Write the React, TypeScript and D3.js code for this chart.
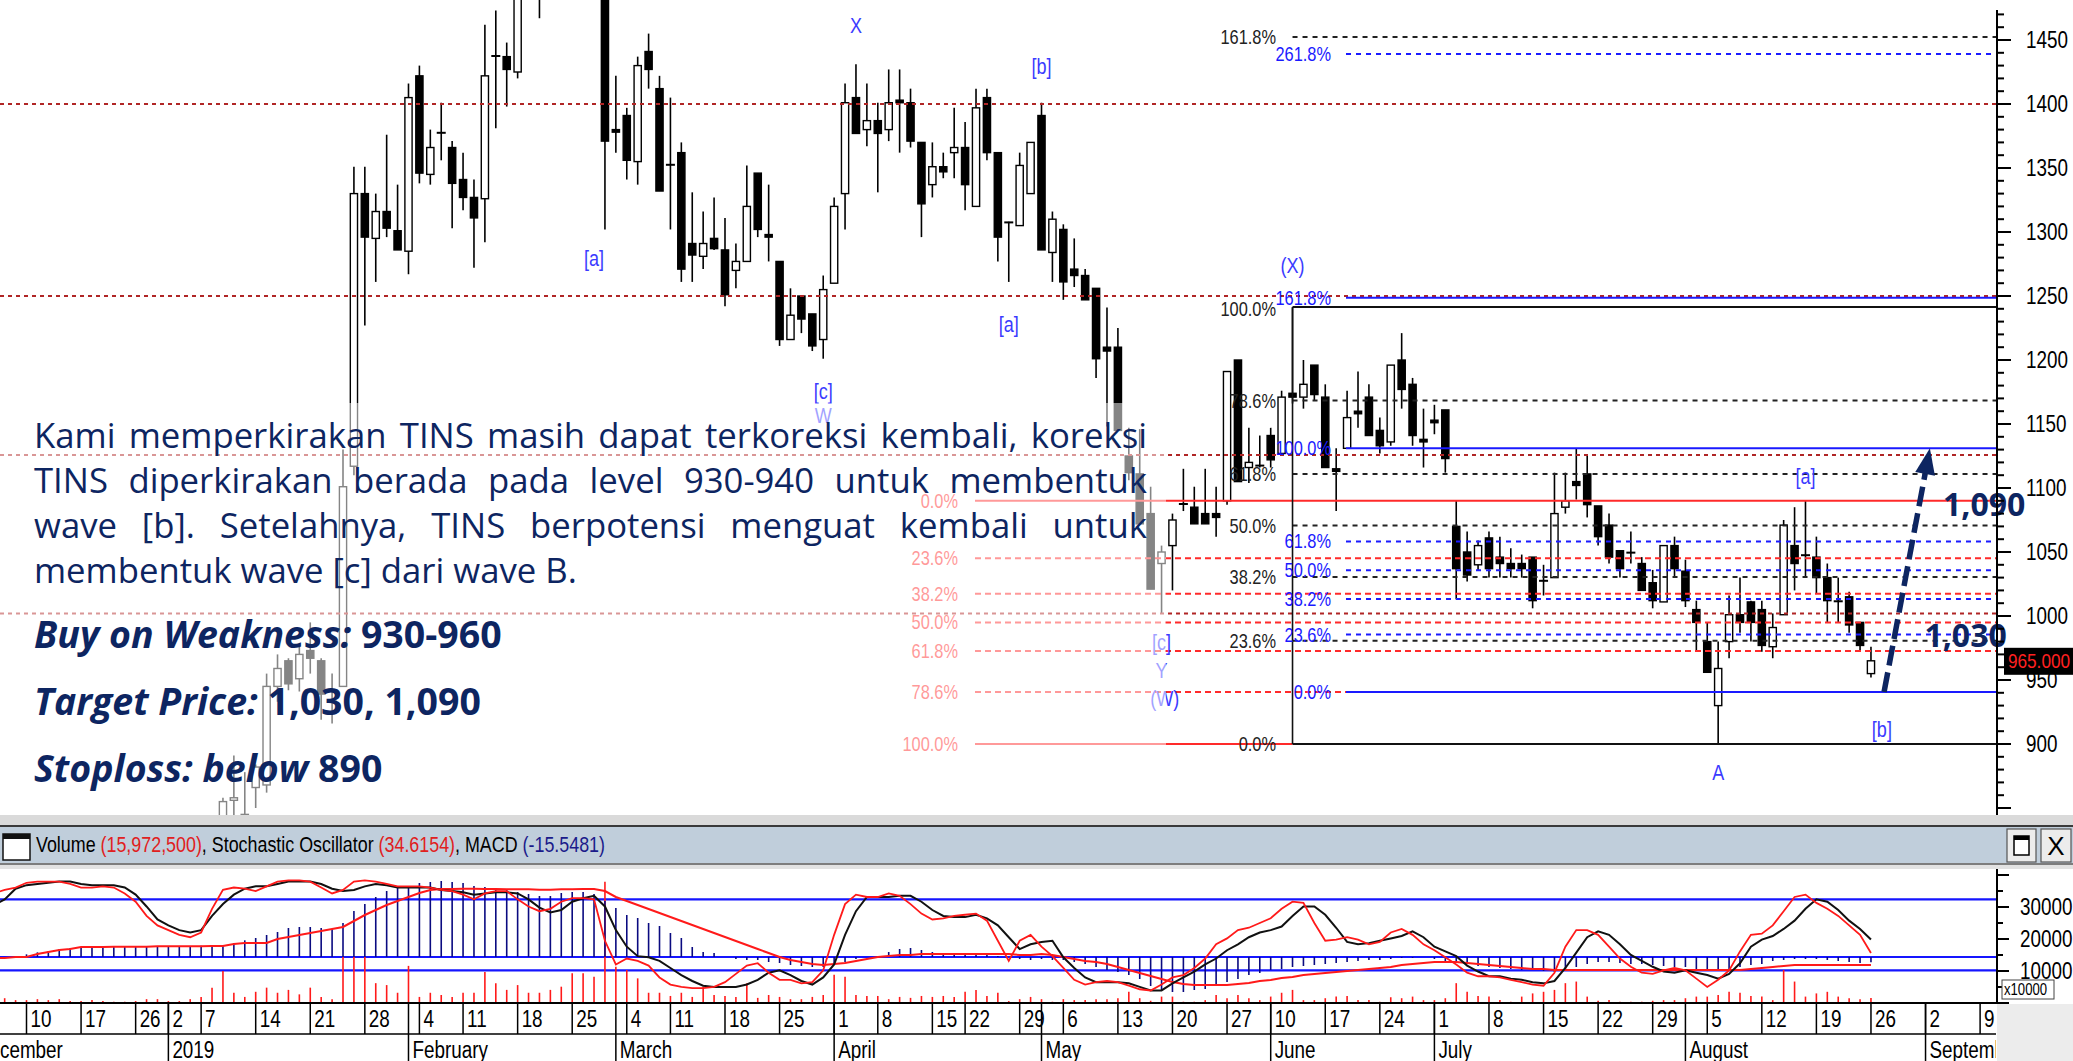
import React, { useEffect, useRef } from 'react';
import * as d3 from 'd3';

const W = 2073;
const H = 1061;

// ---------- categories: trading days ----------
const monthDays: [string, string, number[]][] = [
  ['2018-12', 'December', [3, 4, 5, 6, 7, 10, 11, 12, 13, 14, 17, 18, 19, 20, 21, 26, 27, 28]],
  ['2019-01', '2019', [2, 3, 4, 7, 8, 9, 10, 11, 14, 15, 16, 17, 18, 21, 22, 23, 24, 25, 28, 29, 30, 31]],
  ['2019-02', 'February', [1, 4, 6, 7, 8, 11, 12, 13, 14, 15, 18, 19, 20, 21, 22, 25, 26, 27, 28]],
  ['2019-03', 'March', [1, 4, 5, 6, 8, 11, 12, 13, 14, 15, 18, 19, 20, 21, 22, 25, 26, 27, 28, 29]],
  ['2019-04', 'April', [1, 2, 4, 5, 8, 9, 10, 11, 12, 15, 16, 18, 22, 23, 24, 25, 26, 29, 30]],
  ['2019-05', 'May', [2, 3, 6, 7, 8, 9, 10, 13, 14, 15, 16, 17, 20, 21, 22, 23, 24, 27, 28, 29, 31]],
  ['2019-06', 'June', [10, 11, 12, 13, 14, 17, 18, 19, 20, 21, 24, 25, 26, 27, 28]],
  ['2019-07', 'July', [1, 2, 3, 4, 5, 8, 9, 10, 11, 12, 15, 16, 17, 18, 19, 22, 23, 24, 25, 26, 29, 30, 31]],
  ['2019-08', 'August', [1, 2, 5, 6, 7, 8, 9, 12, 13, 14, 15, 16, 19, 20, 21, 22, 23, 26, 27, 28, 29, 30]],
  ['2019-09', 'September', [2, 3, 4, 5, 6, 9, 10, 11, 12, 13]],
];
const dates: string[] = monthDays.flatMap(([m, , ds]) => ds.map((d) => `${m}-${String(d).padStart(2, '0')}`));
const monthLabel: Record<string, string> = Object.fromEntries(monthDays.map(([m, l]) => [m, l]));

// ---------- price series (Dec 3 2018 .. Aug 26 2019) ----------
const open = [
  780, 788, 790, 795, 790,
  798, 805, 800, 808, 812, 805, 800, 798, 805, 800,
  792, 785, 790, 795, 790, 785, 788, 805, 835, 856,
  840, 866, 868, 945, 965, 951, 973, 965, 933, 945,
  1117, 1330, 1295, 1316, 1301, 1285, 1422, 1345, 1378, 1366,
  1341, 1327, 1326, 1438, 1437, 1425, 1505, 1540, 1500, 1550,
  1580, 1560, 1535, 1525, 1380, 1391, 1355, 1441, 1412, 1353,
  1362, 1291, 1281, 1295, 1286, 1270, 1277, 1346, 1298, 1277,
  1216, 1250, 1236, 1216, 1260, 1330, 1405, 1380, 1387, 1380,
  1403, 1401, 1370, 1337, 1351, 1362, 1366, 1320, 1405, 1362,
  1308, 1305, 1330, 1391, 1284, 1302, 1271, 1266, 1256, 1210,
  1210, 1125, 1111, 1080, 1041, 1055, 1088, 1085, 1080, 1080,
  1090, 1200, 1116, 1118, 1141, 1127, 1174, 1171, 1196, 1171,
  1115, 1131, 1160, 1171, 1145, 1136, 1200, 1181, 1138, 1153,
  1161, 1070, 1050, 1040, 1061, 1046, 1041, 1041, 1046, 1028,
  1030, 1085, 1105, 1111, 1086, 1071, 1051, 1049, 1041, 1026,
  1011, 1055, 1035, 1005, 980, 930, 980, 1001, 1011, 1005,
  976, 1001, 1055, 1048, 1046, 1030, 1012, 1015, 995, 955,
];
const high = [
  792, 798, 800, 805, 800,
  810, 815, 812, 820, 818, 812, 808, 810, 815, 806,
  798, 795, 800, 805, 798, 792, 810, 840, 858, 891,
  878, 884, 955, 970, 967, 977, 995, 967, 955, 1130,
  1351, 1351, 1330, 1376, 1337, 1416, 1430, 1380, 1401, 1371,
  1362, 1341, 1462, 1473, 1448, 1530, 1560, 1580, 1560, 1600,
  1620, 1590, 1570, 1530, 1422, 1397, 1437, 1455, 1422, 1405,
  1370, 1331, 1316, 1327, 1311, 1291, 1352, 1346, 1337, 1277,
  1256, 1250, 1236, 1266, 1327, 1416, 1431, 1416, 1401, 1427,
  1427, 1412, 1370, 1370, 1362, 1397, 1386, 1412, 1412, 1362,
  1308, 1362, 1370, 1401, 1316, 1306, 1295, 1271, 1256, 1241,
  1225, 1147, 1146, 1101, 1055, 1080, 1115, 1101, 1115, 1101,
  1191, 1200, 1147, 1141, 1147, 1176, 1241, 1200, 1196, 1181,
  1131, 1176, 1191, 1181, 1155, 1196, 1221, 1186, 1162, 1165,
  1161, 1090, 1066, 1059, 1066, 1062, 1053, 1048, 1046, 1040,
  1112, 1112, 1131, 1126, 1086, 1080, 1051, 1066, 1046, 1036,
  1055, 1062, 1044, 1012, 995, 980, 1016, 1030, 1012, 1012,
  1002, 1075, 1085, 1090, 1062, 1041, 1030, 1019, 995, 976,
];
const low = [
  772, 780, 780, 785, 780,
  790, 795, 792, 800, 800, 795, 790, 792, 798, 788,
  780, 778, 785, 785, 780, 775, 785, 800, 830, 840,
  835, 850, 862, 933, 942, 941, 955, 919, 916, 945,
  1110, 1227, 1261, 1296, 1286, 1267, 1338, 1337, 1356, 1303,
  1317, 1272, 1292, 1381, 1398, 1420, 1490, 1467, 1490, 1530,
  1540, 1520, 1500, 1302, 1362, 1341, 1337, 1412, 1332, 1302,
  1261, 1261, 1271, 1286, 1242, 1256, 1277, 1296, 1277, 1211,
  1216, 1221, 1207, 1201, 1260, 1302, 1377, 1367, 1331, 1371,
  1362, 1366, 1296, 1327, 1342, 1342, 1317, 1320, 1356, 1277,
  1261, 1305, 1330, 1286, 1261, 1247, 1257, 1247, 1186, 1148,
  1145, 1106, 1072, 1021, 1002, 1020, 1082, 1072, 1072, 1062,
  1087, 1105, 1104, 1116, 1116, 1127, 1166, 1162, 1168, 1116,
  1082, 1131, 1147, 1141, 1127, 1133, 1162, 1133, 1116, 1142,
  1112, 1013, 1027, 1036, 1030, 1030, 1030, 1030, 1006, 1016,
  1030, 1080, 1091, 1077, 1055, 1041, 1030, 1041, 1020, 1006,
  1011, 1030, 1007, 972, 956, 900, 967, 987, 980, 972,
  967, 1001, 1020, 1030, 1018, 995, 995, 987, 972, 952,
];
const close = [
  788, 790, 795, 790, 798,
  805, 800, 808, 812, 805, 800, 798, 805, 800, 792,
  785, 790, 795, 790, 785, 788, 805, 830, 855, 858,
  845, 882, 945, 959, 947, 970, 967, 939, 934, 1101,
  1330, 1296, 1316, 1303, 1286, 1405, 1346, 1366, 1377, 1338,
  1327, 1311, 1422, 1437, 1427, 1505, 1540, 1500, 1550, 1580,
  1560, 1535, 1525, 1371, 1378, 1356, 1430, 1427, 1332, 1352,
  1271, 1282, 1291, 1287, 1251, 1277, 1320, 1302, 1296, 1216,
  1235, 1232, 1211, 1255, 1320, 1401, 1377, 1387, 1377, 1401,
  1401, 1371, 1322, 1351, 1347, 1366, 1337, 1397, 1362, 1296,
  1307, 1352, 1370, 1286, 1310, 1261, 1266, 1247, 1201, 1207,
  1145, 1112, 1072, 1021, 1050, 1075, 1087, 1072, 1072, 1077,
  1191, 1105, 1120, 1117, 1122, 1171, 1171, 1181, 1173, 1116,
  1113, 1155, 1158, 1141, 1133, 1196, 1177, 1141, 1136, 1151,
  1123, 1037, 1032, 1055, 1037, 1041, 1037, 1037, 1012, 1027,
  1080, 1090, 1102, 1087, 1062, 1046, 1037, 1050, 1020, 1012,
  1055, 1037, 1012, 995, 956, 959, 1001, 995, 995, 977,
  991, 1071, 1041, 1047, 1030, 1012, 1011, 993, 977, 965,
];
// volume in units of 10,000 shares
const volume = [
  1200, 900, 1250, 1500, 900,
  900, 1200, 900, 1200, 600, 600, 900, 600, 400, 400,
  600, 1200, 1200, 600, 600, 1200, 1900, 4800, 10000, 3200,
  1900, 3500, 4800, 3200, 4100, 2700, 4800, 1900, 1200, 14500,
  14500, 14500, 6200, 5600, 3200, 11600, 1900, 3200, 2500, 1900,
  3200, 3200, 9700, 6200, 4100, 5600, 3200, 3200, 4100, 5100,
  9300, 9300, 8200, 37900, 11300, 10300, 7700, 3200, 3200, 2200,
  3200, 1900, 5100, 2500, 2200, 1900, 6200, 1600, 2500, 1900,
  1200, 1200, 1900, 2500, 8800, 8200, 2500, 2200, 2200, 1200,
  1900, 1600, 2200, 1900, 2200, 1900, 3500, 4100, 2200, 3200,
  600, 1200, 1900, 1200, 400, 1200, 900, 900, 1200, 1200,
  1500, 3500, 1500, 700, 2000, 2000, 400, 400, 900, 2500,
  1500, 2500, 1500, 900, 2000, 3200, 4100, 900, 900, 1500,
  2000, 2200, 900, 900, 400, 1800, 1500, 2000, 900, 900,
  1500, 6200, 3500, 2200, 2000, 900, 400, 2000, 3000, 3500,
  4100, 6200, 6700, 2000, 700, 900, 400, 400, 400, 700,
  900, 900, 1500, 2000, 2000, 2500, 3500, 3200, 2200, 2000,
  900, 10300, 6700, 2000, 3000, 3500, 2000, 1500, 1200, 1597.25,
];
const stochK = [
  75, 80, 85, 88, 90,
  94, 95, 95, 95, 93, 90, 90, 91, 90, 85,
  78, 66, 58, 54, 50, 48, 52, 72, 88, 90,
  89, 87, 91, 95, 96, 96, 95, 90, 85, 88,
  95, 96, 95, 93, 91, 91, 91, 90, 88, 87,
  84, 80, 85, 87, 87, 80, 74, 70, 72, 78,
  81, 81, 80, 45, 25, 30, 28, 24, 14, 8,
  6, 5, 5, 6, 10, 17, 24, 26, 18, 12,
  12, 9, 10, 20, 50, 76, 84, 82, 82, 85,
  83, 76, 68, 63, 64, 66, 67, 68, 62, 45,
  28, 45, 50, 40, 32, 22, 12, 8, 10, 11,
  10, 7, 4, 3, 8, 14, 16, 22, 30, 42,
  47, 54, 56, 60, 64, 72, 78, 77, 60, 45,
  46, 48, 46, 42, 44, 52, 55, 50, 42, 37,
  31, 25, 18, 15, 15, 14, 12, 10, 8, 7,
  18, 40, 54, 54, 50, 40, 30, 23, 18, 17,
  20, 22, 20, 13, 6, 12, 20, 36, 50, 51,
  58, 70, 82, 84, 77, 72, 66, 58, 50, 34.6154,
];
const stochD = [
  60, 68, 75, 80, 89,
  92, 93, 94, 95, 95, 93, 92, 92, 92, 90,
  84, 74, 63, 58, 54, 52, 54, 66, 76, 84,
  89, 91, 91, 93, 95, 95, 95, 93, 89, 87,
  88, 91, 93, 92, 90, 90, 90, 90, 88, 87,
  86, 84, 85, 86, 86, 85, 80, 73, 69, 71,
  78, 81, 83, 74, 54, 40, 32, 31, 28, 22,
  16, 11, 7, 6, 6, 6, 8, 12, 18, 20,
  16, 11, 8, 14, 25, 50, 70, 82, 82, 82,
  83, 83, 78, 71, 66, 65, 65, 67, 64, 58,
  48, 38, 42, 44, 45, 31, 22, 14, 10, 10,
  10, 9, 6, 3, 3, 9, 14, 19, 25, 30,
  37, 42, 48, 52, 54, 57, 66, 74, 74, 67,
  56, 44, 42, 43, 45, 47, 49, 53, 48, 40,
  36, 32, 24, 19, 15, 15, 13, 12, 10, 9,
  11, 22, 35, 48, 53, 50, 42, 33, 28, 23,
  19, 18, 20, 18, 16, 13, 17, 26, 40, 46,
  49, 55, 62, 72, 80, 78, 71, 62, 55, 46,
];
const macd = [
  -3, -3, -2, 0, 0,
  8, 14, 18, 24, 27, 30, 30, 30, 31, 31,
  31, 32, 32, 32, 33, 33, 34, 35, 36, 42,
  50, 57, 66, 75, 87, 90, 90, 87, 84, 102,
  138, 159, 180, 198, 207, 213, 222, 225, 228, 225,
  222, 213, 210, 204, 201, 195, 189, 183, 183, 192,
  195, 195, 189, 168, 147, 126, 117, 102, 93, 72,
  57, 30, 15, 12, 0, -6, -9, -9, -15, -18,
  -24, -27, -30, -30, -24, -15, -6, 0, 3, 15,
  24, 27, 21, 15, 9, 9, 9, 9, 6, 3,
  0, -6, -9, -6, -9, -9, -15, -21, -30, -39,
  -45, -54, -66, -87, -99, -105, -105, -99, -96, -84,
  -75, -66, -54, -48, -39, -36, -30, -27, -24, -21,
  -18, -15, -12, -9, -9, -6, -3, -3, 0, -6,
  -12, -18, -21, -27, -30, -33, -36, -39, -39, -42,
  -45, -39, -30, -21, -15, -15, -18, -21, -21, -24,
  -27, -30, -30, -36, -39, -39, -39, -30, -24, -21,
  -12, -9, -6, -6, -6, -9, -12, -15, -18, -15.5481,
];
const signal = [
  -3, -3, -3, -3, 0,
  0, 9, 15, 21, 24, 30, 30, 30, 31, 31,
  31, 31, 32, 32, 32, 32, 32, 33, 33, 39,
  42, 42, 42, 54, 60, 66, 72, 78, 84, 90,
  108, 126, 141, 156, 168, 180, 192, 201, 204, 204,
  205, 205, 204, 204, 203, 203, 203, 202, 202, 203,
  203, 204, 204, 198, 180, 168, 156, 144, 132, 120,
  108, 96, 84, 72, 60, 48, 36, 24, 12, 0,
  -9, -15, -21, -24, -21, -18, -12, -6, 0, 3,
  6, 6, 9, 9, 9, 9, 9, 9, 9, 9,
  9, 6, 6, 9, 6, 0, -6, -12, -15, -21,
  -30, -39, -48, -57, -66, -75, -81, -84, -84, -84,
  -84, -81, -78, -72, -69, -63, -60, -54, -51, -48,
  -45, -42, -39, -36, -33, -30, -24, -21, -18, -15,
  -15, -15, -18, -21, -24, -27, -30, -33, -36, -36,
  -39, -39, -39, -39, -39, -39, -39, -39, -39, -39,
  -39, -39, -39, -39, -39, -39, -39, -39, -36, -33,
  -30, -27, -24, -24, -24, -24, -24, -24, -24, -24,
];

// ---------- levels & labels ----------
const brownLevels = [1400, 1250, 1125.8, 1002];
const redFibLabels = ['0.0%', '23.6%', '38.2%', '50.0%', '61.8%', '78.6%', '100.0%'];
const redFibPrices = [1090, 1045.2, 1017.4, 995, 972.6, 940.7, 900];
const blackFibLabels = ['161.8%', '100.0%', '78.6%', '61.8%', '50.0%', '38.2%', '23.6%', '0.0%'];
const blackFibPrices = [1452.4, 1241.4, 1168.3, 1111, 1070.7, 1030.4, 980.6, 900];
const blueFibLabels = ['261.8%', '161.8%', '100.0%', '61.8%', '50.0%', '38.2%', '23.6%', '0.0%'];
const blueFibPrices = [1439, 1248.7, 1131, 1058.3, 1035.8, 1013.3, 985.5, 940.6];

const waveText = ['X', '[b]', '[a]', '[a]', '[c]', 'W', '(X)', '[c]', 'Y', '(W)', '[a]', '[b]', 'A'];
const waveIdx = [81, 98, 57, 95, 78, 78, 121, 109, 109, 109.3, 168, 175, 160];
const wavePrice = [1462, 1430, 1280, 1228, 1176, 1157, 1274, 980, 958, 936, 1109, 912, 878];

const priceLabels = [900, 950, 1000, 1050, 1100, 1150, 1200, 1250, 1300, 1350, 1400, 1450];
const volLabels = [10000, 20000, 30000];

const paraLines = [
  'Kami memperkirakan TINS masih dapat terkoreksi kembali, koreksi',
  'TINS diperkirakan berada pada level 930-940 untuk membentuk',
  'wave [b]. Setelahnya, TINS berpotensi menguat kembali untuk',
  'membentuk wave [c] dari wave B.',
];
const boldLines: [string, string][] = [
  ['Buy on Weakness:', ' 930-960'],
  ['Target Price:', ' 1,030, 1,090'],
  ['Stoploss: below', ' 890'],
];

// ---------- layout ----------
const AXIS_X = 1997;
const X0 = -28.07;
const STEP = 10.914;
const xS = d3.scaleLinear().domain([0, dates.length - 1]).range([X0, X0 + STEP * (dates.length - 1)]);
const yP = d3.scaleLinear().domain([900, 1450]).range([744, 40]);
const yVol = d3.scaleLinear().domain([0, 40000]).range([1003, 875]);
const yStoch = d3.scaleLinear().domain([0, 100]).range([994, 875.7]);
const yMacd = d3.scaleLinear().domain([0, 300]).range([957, 857]);

const NARROW = "'Liberation Sans', Arial, Helvetica, sans-serif";
const SX = 0.82;
const NAVY = '#0d2561';

function NText(props: { x: number; y: number; size: number; fill?: string; anchor?: string; children: React.ReactNode; weight?: number }) {
  const { x, y, size, fill = '#000', anchor = 'start', children, weight } = props;
  return (
    <text transform={`translate(${x},${y}) scale(${SX},1)`} fontFamily={NARROW} fontSize={size} fill={fill} textAnchor={anchor as any} fontWeight={weight}>
      {children}
    </text>
  );
}

const N = close.length;
const idx = d3.range(N);
const parse = d3.timeParse('%Y-%m-%d');
const weekStarts = dates.map((d, i) => i === 0 || +d3.timeMonday.floor(parse(d)!) !== +d3.timeMonday.floor(parse(dates[i - 1])!));
const monthStarts = dates.map((d, i) => i === 0 || d.slice(0, 7) !== dates[i - 1].slice(0, 7));

export default function App() {
  const paraRef = useRef<SVGGElement>(null);

  useEffect(() => {
    const g = d3.select(paraRef.current);
    g.selectAll('*').remove();
    const left = 34;
    const right = 1147;
    const y0 = 448;
    const lh = 45;
    paraLines.forEach((line, li) => {
      const y = y0 + li * lh;
      const last = li === paraLines.length - 1;
      if (last) {
        g.append('text').attr('x', left).attr('y', y).text(line);
        return;
      }
      const words = line.split(' ');
      const nodes = words.map((w) => g.append('text').attr('y', y).text(w));
      const widths = nodes.map((n) => (n.node() as SVGTextElement).getComputedTextLength());
      const gap = (right - left - d3.sum(widths)) / (words.length - 1);
      let x = left;
      nodes.forEach((n, k) => {
        n.attr('x', x);
        x += widths[k] + gap;
      });
    });
  }, []);

  const stochLine = (arr: number[]) =>
    d3.line<number>().x((i) => xS(i)).y((i) => yStoch(arr[i]))(idx) || '';
  const sigLine = d3.line<number>().x((i) => xS(i)).y((i) => yMacd(signal[i]))(idx) || '';

  const priceTicks = d3.range(850, 1481, 10).filter((v) => yP(v) > 8 && yP(v) < 814);
  const volTicks = d3.range(0, 40001, 5000);

  // arrow
  const a0 = { x: xS(175.2), y: yP(940.6) };
  const a1 = { x: xS(179.4), y: yP(1131) };
  const ang = Math.atan2(a1.y - a0.y, a1.x - a0.x);
  const headLen = 26;
  const headW = 10;
  const hb = { x: a1.x - headLen * Math.cos(ang), y: a1.y - headLen * Math.sin(ang) };
  const headPts = [
    [a1.x, a1.y],
    [hb.x + headW * Math.sin(ang), hb.y - headW * Math.cos(ang)],
    [hb.x - headW * Math.sin(ang), hb.y + headW * Math.cos(ang)],
  ]
    .map((p) => p.join(','))
    .join(' ');

  const fibStartRed = 975;
  const fibStartBlack = xS(121);
  const fibStartBlue = 1346;

  return (
    <svg width={W} height={H} viewBox={`0 0 ${W} ${H}`} style={{ position: 'absolute', left: 0, top: 0, background: '#fff' }}>
      <defs>
        <clipPath id="pc">
          <rect x={0} y={0} width={AXIS_X} height={815} />
        </clipPath>
        <clipPath id="ic">
          <rect x={0} y={869} width={AXIS_X} height={134} />
        </clipPath>
        <clipPath id="dc">
          <rect x={0} y={1003} width={AXIS_X - 1} height={58} />
        </clipPath>
      </defs>
      <rect x={0} y={0} width={W} height={H} fill="#fff" />

      {/* ================= PRICE PANEL ================= */}
      <g clipPath="url(#pc)">
        {/* candles */}
        {idx.map((i) => {
          const x = xS(i);
          const o = open[i];
          const c = close[i];
          const up = c >= o;
          const yt = yP(Math.max(o, c));
          const yb = yP(Math.min(o, c));
          const flat = yb - yt < 2;
          return (
            <g key={i}>
              <line x1={x} x2={x} y1={yP(high[i])} y2={yP(low[i])} stroke="#000" strokeWidth={1.6} />
              {flat ? (
                <line x1={x - 4.5} x2={x + 4.5} y1={(yt + yb) / 2} y2={(yt + yb) / 2} stroke="#000" strokeWidth={2} />
              ) : (
                <rect x={x - 3.6} y={yt} width={7.2} height={yb - yt} fill={up ? '#fff' : '#000'} stroke="#000" strokeWidth={1.4} />
              )}
            </g>
          );
        })}

        {/* brown dotted support/resistance */}
        {brownLevels.map((v, k) => (
          <line key={k} x1={0} x2={AXIS_X} y1={yP(v)} y2={yP(v)} stroke="#b02525" strokeWidth={2} strokeDasharray="4,4" />
        ))}

        {/* red fib */}
        {redFibPrices.map((v, k) => {
          const solid = k === 0 || k === redFibPrices.length - 1;
          const x2 = k === redFibPrices.length - 1 ? fibStartBlack : AXIS_X;
          return (
            <line key={k} x1={fibStartRed} x2={x2} y1={yP(v)} y2={yP(v)} stroke="#ff2a2a" strokeWidth={2} strokeDasharray={solid ? undefined : '6,4'} />
          );
        })}

        {/* black fib */}
        {blackFibPrices.map((v, k) => {
          const solid = k === 1 || k === blackFibPrices.length - 1;
          return (
            <line key={k} x1={fibStartBlack} x2={AXIS_X} y1={yP(v)} y2={yP(v)} stroke={solid ? '#111' : '#222'} strokeWidth={2} strokeDasharray={solid ? undefined : '5,5'} />
          );
        })}
        <line x1={fibStartBlack} x2={fibStartBlack} y1={yP(blackFibPrices[1])} y2={yP(900)} stroke="#111" strokeWidth={1.6} />

        {/* blue fib */}
        {blueFibPrices.map((v, k) => {
          const solid = k === 1 || k === 2 || k === blueFibPrices.length - 1;
          return (
            <line key={k} x1={fibStartBlue} x2={AXIS_X} y1={yP(v)} y2={yP(v)} stroke="#1a1aff" strokeWidth={2} strokeDasharray={solid ? undefined : '5,5'} />
          );
        })}

        {/* fib labels */}
        {redFibPrices.map((v, k) => (
          <NText key={k} x={958} y={yP(v) + 7} size={20} fill="#ff2a2a" anchor="end">
            {redFibLabels[k]}
          </NText>
        ))}
        {blackFibPrices.map((v, k) => (
          <NText key={k} x={1276} y={yP(v) + 7 + (k === 1 ? 2 : 0)} size={20} fill="#222" anchor="end">
            {blackFibLabels[k]}
          </NText>
        ))}
        {blueFibPrices.map((v, k) => (
          <NText key={k} x={1331} y={yP(v) + 7} size={20} fill="#1a1aff" anchor="end">
            {blueFibLabels[k]}
          </NText>
        ))}

        {/* wave labels */}
        {waveText.map((t, k) => (
          <NText key={k} x={xS(waveIdx[k])} y={yP(wavePrice[k]) + 8} size={22} fill="#3b3bff" anchor="middle">
            {t}
          </NText>
        ))}

        {/* translucent white box behind the commentary */}
        <rect x={0} y={403} width={1166} height={412} fill="#fff" opacity={0.52} />
      </g>

      {/* commentary text */}
      <g ref={paraRef} fontFamily="'Open Sans', 'Noto Sans', sans-serif" fontSize={34.7} fill={NAVY} />
      <g fontFamily="'Open Sans', 'Noto Sans', sans-serif" fontSize={37.5} fill={NAVY} fontWeight={700}>
        {boldLines.map(([a, b], k) => (
          <text key={k} x={34} y={648 + k * 67}>
            <tspan fontStyle="italic">{a}</tspan>
            <tspan>{b}</tspan>
          </text>
        ))}
      </g>

      {/* arrow and targets */}
      <line x1={a0.x} y1={a0.y} x2={hb.x} y2={hb.y} stroke={NAVY} strokeWidth={5.5} strokeDasharray="20,7" />
      <polygon points={headPts} fill={NAVY} />
      <text x={xS(180.6)} y={yP(1078)} fontFamily="'Open Sans', sans-serif" fontWeight={700} fontSize={32} fill={NAVY}>
        1,090
      </text>
      <text x={xS(178.9)} y={yP(975.8)} fontFamily="'Open Sans', sans-serif" fontWeight={700} fontSize={32} fill={NAVY}>
        1,030
      </text>

      {/* price axis */}
      <line x1={AXIS_X} x2={AXIS_X} y1={10} y2={815} stroke="#000" strokeWidth={2} />
      {priceTicks.map((v) => (
        <line key={v} x1={AXIS_X} x2={AXIS_X + (v % 50 === 0 ? 14 : 7)} y1={yP(v)} y2={yP(v)} stroke="#000" strokeWidth={2} />
      ))}
      {priceLabels.map((v) => (
        <NText key={v} x={2026} y={yP(v) + 8} size={23}>
          {v}
        </NText>
      ))}
      <rect x={2004} y={yP(close[N - 1]) - 13} width={69} height={27} fill="#000" />
      <NText x={2039} y={yP(close[N - 1]) + 7} size={21} fill="#ff2020" anchor="middle">
        {close[N - 1].toFixed(3)}
      </NText>

      {/* ================= PANEL TITLE BAR ================= */}
      <rect x={0} y={815} width={W} height={11} fill="#dadada" />
      <line x1={0} x2={W} y1={826} y2={826} stroke="#3a3a3a" strokeWidth={2} />
      <rect x={0} y={827} width={W} height={36} fill="#c0cedb" />
      <line x1={0} x2={W} y1={864} y2={864} stroke="#7d7d7d" strokeWidth={2} />
      <rect x={0} y={865} width={W} height={4} fill="#e2e2e2" />
      <rect x={3} y={834} width={27} height={26} fill="#fff" stroke="#111" strokeWidth={1.5} />
      <rect x={3} y={834} width={27} height={5} fill="#111" />
      <NText x={36} y={852} size={21.8}>
        <tspan>Volume </tspan>
        <tspan fill="#e02020">(15,972,500)</tspan>
        <tspan>, Stochastic Oscillator </tspan>
        <tspan fill="#e02020">(34.6154)</tspan>
        <tspan>, MACD </tspan>
        <tspan fill="#1a1a8a">(-15.5481)</tspan>
      </NText>
      <rect x={2007} y={829} width={29} height={33} fill="#ececec" stroke="#555" strokeWidth={1.2} />
      <rect x={2014} y={836} width={15} height={19} fill="#fff" stroke="#000" strokeWidth={1.5} />
      <rect x={2014} y={836} width={15} height={4} fill="#000" />
      <rect x={2041} y={829} width={30} height={33} fill="#ececec" stroke="#555" strokeWidth={1.2} />
      <text x={2056} y={855} textAnchor="middle" fontFamily={NARROW} fontSize={26} fill="#000">
        X
      </text>

      {/* ================= INDICATOR PANEL ================= */}
      <g clipPath="url(#ic)">
        {[80, 20].map((v) => (
          <line key={v} x1={0} x2={AXIS_X} y1={yStoch(v)} y2={yStoch(v)} stroke="#1515ff" strokeWidth={2.2} />
        ))}
        <line x1={0} x2={AXIS_X} y1={yMacd(0)} y2={yMacd(0)} stroke="#1515ff" strokeWidth={2.2} />
        {idx.map((i) => (
          <line key={'v' + i} x1={xS(i)} x2={xS(i)} y1={yVol(0)} y2={yVol(volume[i])} stroke="#ff1a1a" strokeWidth={1.6} />
        ))}
        {idx.map((i) => (
          <line key={'m' + i} x1={xS(i)} x2={xS(i)} y1={yMacd(0)} y2={yMacd(macd[i])} stroke="#0a0a80" strokeWidth={1.6} />
        ))}
        <path d={sigLine} fill="none" stroke="#ff1a1a" strokeWidth={2} />
        <path d={stochLine(stochD)} fill="none" stroke="#111" strokeWidth={2} />
        <path d={stochLine(stochK)} fill="none" stroke="#ff1a1a" strokeWidth={1.8} />
      </g>
      <line x1={AXIS_X} x2={AXIS_X} y1={869} y2={1004} stroke="#000" strokeWidth={2} />
      {volTicks.map((v) => (
        <line key={v} x1={AXIS_X} x2={AXIS_X + (v % 10000 === 0 ? 12 : 6)} y1={yVol(v)} y2={yVol(v)} stroke="#000" strokeWidth={2} />
      ))}
      {volLabels.map((v) => (
        <NText key={v} x={2020} y={yVol(v) + 8} size={23}>
          {v}
        </NText>
      ))}
      <rect x={2002} y={980} width={52} height={19} fill="#fff" stroke="#444" strokeWidth={1} />
      <NText x={2004} y={995} size={16}>
        x10000
      </NText>

      {/* ================= DATE AXIS ================= */}
      <rect x={AXIS_X} y={1004} width={W - AXIS_X} height={H - 1004} fill="#ececec" />
      <line x1={0} x2={AXIS_X} y1={1003} y2={1003} stroke="#000" strokeWidth={2} />
      <g clipPath="url(#dc)">
        <line x1={0} x2={AXIS_X} y1={1034} y2={1034} stroke="#000" strokeWidth={1.5} />
        {dates.map((d, i) =>
          weekStarts[i] ? (
            <g key={'w' + i}>
              <line x1={xS(i)} x2={xS(i)} y1={1003} y2={1034} stroke="#000" strokeWidth={1.5} />
              <NText x={xS(i) + 4} y={1027} size={23}>
                {String(+d.slice(8))}
              </NText>
            </g>
          ) : null
        )}
        {dates.map((d, i) =>
          monthStarts[i] ? (
            <g key={'m' + i}>
              <line x1={xS(i)} x2={xS(i)} y1={1003} y2={H} stroke="#000" strokeWidth={1.5} />
              <NText x={xS(i) + 4} y={1058} size={23}>
                {monthLabel[d.slice(0, 7)]}
              </NText>
            </g>
          ) : null
        )}
      </g>
    </svg>
  );
}
